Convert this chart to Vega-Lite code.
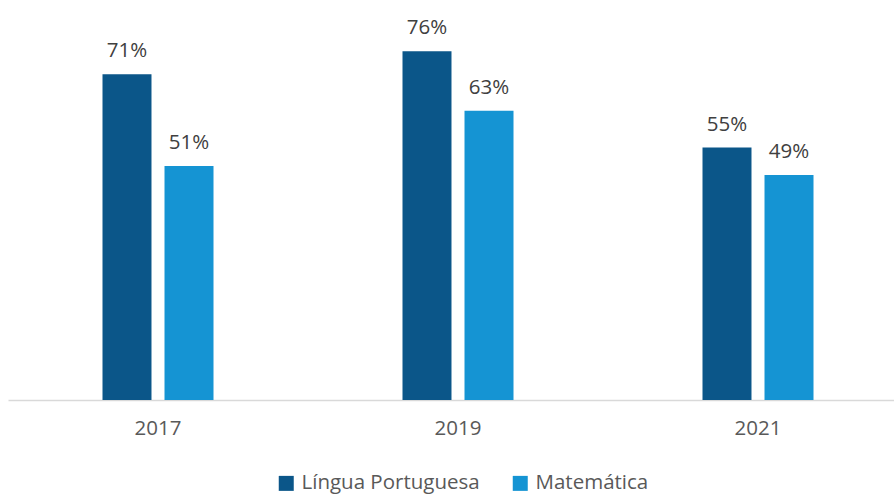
{
  "$schema": "https://vega.github.io/schema/vega-lite/v6.json",
  "width": 900,
  "height": 400,
  "autosize": {"type": "none"},
  "padding": {"left": 8, "top": 0, "right": 0, "bottom": 95},
  "background": "white",
  "config": {"view": {"stroke": null}, "font": "Open Sans"},
  "data": {
    "values": [
      {"ano": "2017", "disciplina": "Língua Portuguesa", "valor": 0.71},
      {"ano": "2017", "disciplina": "Matemática", "valor": 0.51},
      {"ano": "2019", "disciplina": "Língua Portuguesa", "valor": 0.76},
      {"ano": "2019", "disciplina": "Matemática", "valor": 0.63},
      {"ano": "2021", "disciplina": "Língua Portuguesa", "valor": 0.55},
      {"ano": "2021", "disciplina": "Matemática", "valor": 0.49}
    ]
  },
  "encoding": {
    "x": {
      "field": "ano", "type": "nominal",
      "scale": {"paddingInner": 0.63, "paddingOuter": 0.315},
      "axis": {"title": null, "labelAngle": 0, "ticks": false, "domainColor": "#D9D9D9", "domainWidth": 1.5, "labelFontSize": 20.5, "labelColor": "#595959", "labelPadding": 18, "labelFont": "Open Sans"}
    },
    "xOffset": {"field": "disciplina", "type": "nominal", "scale": {"paddingInner": 0.21, "paddingOuter": 0}},
    "y": {"field": "valor", "type": "quantitative", "scale": {"domain": [0, 0.8715], "nice": false, "zero": true}, "axis": null}
  },
  "layer": [
    {
      "mark": {"type": "bar"},
      "encoding": {
        "color": {
          "field": "disciplina", "type": "nominal",
          "scale": {"domain": ["Língua Portuguesa", "Matemática"], "range": ["#0B5689", "#1594D3"]},
          "legend": {"title": null, "orient": "none", "legendX": 268, "legendY": 473, "direction": "horizontal", "symbolType": "square", "symbolSize": 225, "symbolStrokeWidth": 0, "labelFontSize": 20.5, "labelLimit": 400, "labelColor": "#595959", "labelFont": "Open Sans", "columnPadding": 30, "labelOffset": 5}
        }
      }
    },
    {
      "mark": {"type": "text", "baseline": "alphabetic", "dy": -17, "fontSize": 20.5, "color": "#404040", "font": "Open Sans"},
      "encoding": {"text": {"field": "valor", "type": "quantitative", "format": ".0%"}}
    }
  ]
}
